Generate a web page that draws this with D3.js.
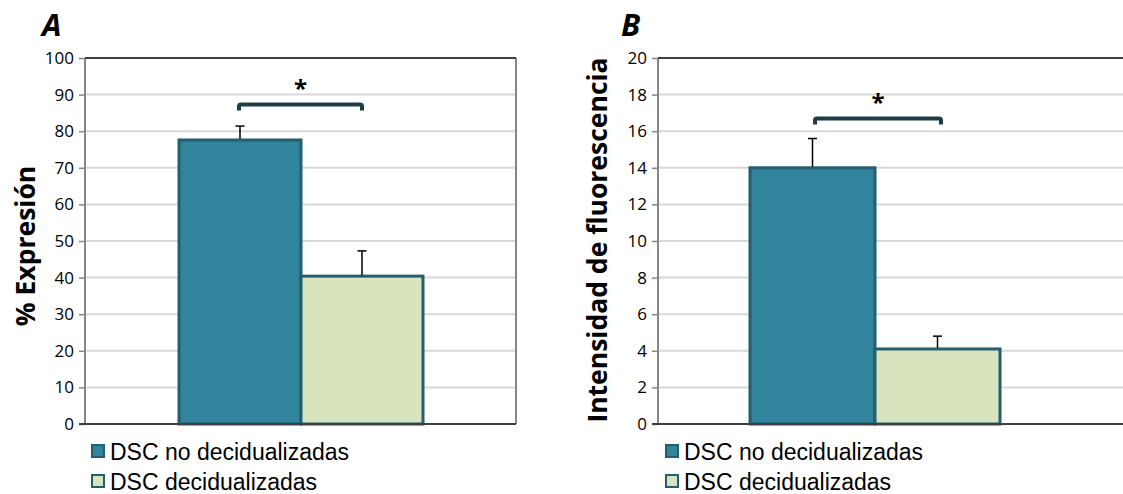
<!DOCTYPE html>
<html>
<head>
<meta charset="utf-8">
<script src="https://cdn.jsdelivr.net/npm/d3@7"></script>
<style>
  body { margin: 0; background: #fff; }
  svg { display: block; }
</style>
</head>
<body>
<svg id="chart" width="1123" height="494"></svg>
<script>
// Données

const groups = ["DSC no decidualizadas", "DSC decidualizadas"];
const expresionValues = [77.6, 40.4];
const expresionErrors = [3.8, 6.9];
const fluorescenciaValues = [14.0, 4.1];
const fluorescenciaErrors = [1.6, 0.7];
const expresionTicks = [0, 10, 20, 30, 40, 50, 60, 70, 80, 90, 100];
const fluorescenciaTicks = [0, 2, 4, 6, 8, 10, 12, 14, 16, 18, 20];

const fills = ["#31849B", "#D7E4BD"];
const legendFills = ["#31849B", "#D7E4BD"];
const barStroke = "#235F6F";
const bracketColor = "#1D3D49";

const svg = d3.select("#chart");

function drawPanel(opt) {
  const g = svg.append("g");

  const y = d3.scaleLinear().domain([0, opt.max]).range([424, 58]);
  const x = d3
    .scaleBand()
    .domain(groups)
    .range([opt.barLeft, opt.barRight])
    .padding(0);

  // Grille
  g.selectAll(".grid")
    .data(opt.ticks.filter((t) => t > 0 && t < opt.max))
    .enter()
    .append("line")
    .attr("x1", opt.left)
    .attr("x2", opt.right)
    .attr("y1", (d) => y(d))
    .attr("y2", (d) => y(d))
    .attr("stroke", "#d9d9d9")
    .attr("stroke-width", 2);

  // Cadre
  g.append("line")
    .attr("x1", opt.left).attr("x2", opt.left)
    .attr("y1", y(opt.max)).attr("y2", y(0))
    .attr("stroke", "#868686").attr("stroke-width", 2);
  g.append("line")
    .attr("x1", opt.right).attr("x2", opt.right)
    .attr("y1", y(opt.max)).attr("y2", y(0))
    .attr("stroke", "#868686").attr("stroke-width", 2);
  g.append("line")
    .attr("x1", opt.left).attr("x2", opt.right)
    .attr("y1", y(opt.max)).attr("y2", y(opt.max))
    .attr("stroke", "#3f3f3f").attr("stroke-width", 2);

  // Axe Y
  const axis = g
    .append("g")
    .attr("transform", "translate(" + opt.left + ",0)")
    .call(d3.axisLeft(y).tickValues(opt.ticks).tickSize(6).tickPadding(5));
  axis.select(".domain").remove();
  axis.selectAll(".tick line").attr("stroke", "#868686").attr("stroke-width", 1.5);
  axis
    .selectAll(".tick text")
    .attr("font-family", "'Open Sans', sans-serif")
    .attr("font-size", "17px")
    .attr("fill", "#000");

  // Barres
  g.selectAll(".bar")
    .data(opt.values)
    .enter()
    .append("rect")
    .attr("x", (d, i) => x(groups[i]))
    .attr("y", (d) => y(d))
    .attr("width", x.bandwidth())
    .attr("height", (d) => y(0) - y(d))
    .attr("fill", (d, i) => fills[i])
    .attr("stroke", barStroke)
    .attr("stroke-width", 3);

  // Barres d'erreur
  opt.values.forEach((v, i) => {
    const cx = x(groups[i]) + x.bandwidth() / 2;
    g.append("line")
      .attr("x1", cx).attr("x2", cx)
      .attr("y1", y(v) - 1).attr("y2", y(v + opt.errors[i]))
      .attr("stroke", "#000").attr("stroke-width", 1.5);
    g.append("line")
      .attr("x1", cx - 4.5).attr("x2", cx + 4.5)
      .attr("y1", y(v + opt.errors[i])).attr("y2", y(v + opt.errors[i]))
      .attr("stroke", "#000").attr("stroke-width", 1.5);
  });

  // Axe X (ligne de base)
  g.append("line")
    .attr("x1", opt.left - 6).attr("x2", opt.right)
    .attr("y1", y(0)).attr("y2", y(0))
    .attr("stroke", "#3f3f3f").attr("stroke-width", 2);

  // Accolade de significativité
  const bx1 = opt.bracket[0];
  const bx2 = opt.bracket[1];
  const by = y(opt.bracketValue);
  g.append("path")
    .attr(
      "d",
      "M" + bx1 + "," + (by + 6) +
        " L" + bx1 + "," + (by + 2) +
        " Q" + bx1 + "," + by + " " + (bx1 + 2) + "," + by +
        " L" + (bx2 - 2) + "," + by +
        " Q" + bx2 + "," + by + " " + bx2 + "," + (by + 2) +
        " L" + bx2 + "," + (by + 6)
    )
    .attr("fill", "none")
    .attr("stroke", bracketColor)
    .attr("stroke-width", 4);
  g.append("text")
    .attr("x", (bx1 + bx2) / 2)
    .attr("y", by - 7)
    .attr("text-anchor", "middle")
    .attr("font-family", "'Open Sans', sans-serif")
    .attr("font-weight", "bold")
    .attr("font-size", "24px")
    .text("*");

  // Titre de l'axe
  g.append("text")
    .attr("transform", "translate(" + opt.titleX + "," + opt.titleY + ") rotate(-90)")
    .attr("text-anchor", "middle")
    .attr("font-family", "'Open Sans', sans-serif")
    .attr("font-weight", "bold")
    .attr("font-size", opt.titleSize + "px")
    .text(opt.title);

  // Lettre du panneau
  g.append("text")
    .attr("x", opt.letterX)
    .attr("y", 36)
    .attr("font-family", "'Open Sans', sans-serif")
    .attr("font-weight", "bold")
    .attr("font-style", "italic")
    .attr("font-size", "31px")
    .text(opt.letter);

  // Légende
  groups.forEach((name, i) => {
    const ly = 445 + i * 30;
    g.append("rect")
      .attr("x", opt.legendX)
      .attr("y", ly)
      .attr("width", 12)
      .attr("height", 12)
      .attr("fill", legendFills[i])
      .attr("stroke", barStroke)
      .attr("stroke-width", 2);
    g.append("text")
      .attr("x", opt.legendX + 18)
      .attr("y", ly + 15)
      .attr("font-family", "'Liberation Sans', Arial, sans-serif")
      .attr("font-size", "23px")
      .text(name);
  });
}

drawPanel({
  letter: "A",
  letterX: 42,
  title: "% Expresión",
  titleX: 35,
  titleY: 246,
  titleSize: 26.5,
  max: 100,
  ticks: expresionTicks,
  values: expresionValues,
  errors: expresionErrors,
  left: 85,
  right: 516,
  barLeft: 179,
  barRight: 423,
  bracket: [239, 362],
  bracketValue: 87.3,
  legendX: 92,
});

drawPanel({
  letter: "B",
  letterX: 621,
  title: "Intensidad de fluorescencia",
  titleX: 607,
  titleY: 240,
  titleSize: 26.5,
  max: 20,
  ticks: fluorescenciaTicks,
  values: fluorescenciaValues,
  errors: fluorescenciaErrors,
  left: 658,
  right: 1130,
  barLeft: 750,
  barRight: 1000,
  bracket: [815, 941],
  bracketValue: 16.7,
  legendX: 666,
});
</script>
</body>
</html>
